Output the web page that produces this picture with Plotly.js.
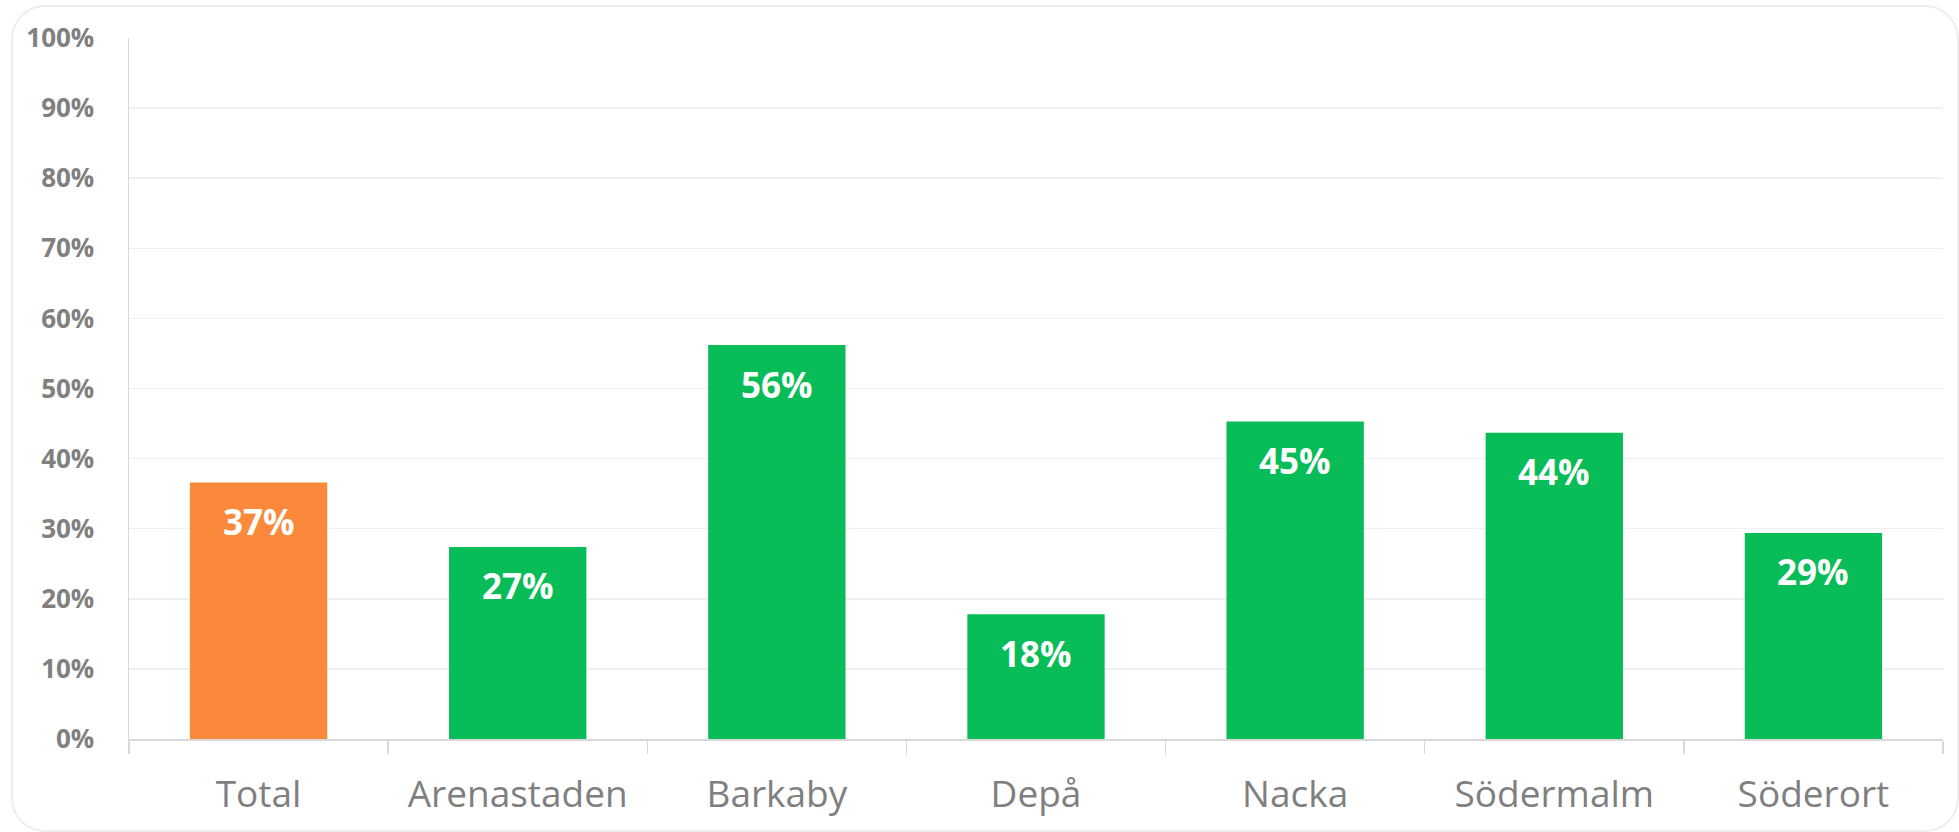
<!DOCTYPE html>
<html>
<head>
<meta charset="utf-8">
<script src="https://cdn.plot.ly/plotly-3.0.1.min.js"></script>
<style>
html,body{margin:0;padding:0;background:#fff;}
#wrap{position:relative;width:1959px;height:832px;}
#chart{position:absolute;left:0;top:0;width:1959px;height:832px;}
#frame{position:absolute;left:11px;top:5px;width:1944px;height:823px;border:2px solid #ededed;border-radius:34px;pointer-events:none;}
</style>
</head>
<body>
<div id="wrap"><div id="chart"></div><div id="frame"></div></div>
<script>
const categories = ["Total", "Arenastaden", "Barkaby", "Depå", "Nacka", "Södermalm", "Söderort"];
const values = [0.366, 0.274, 0.562, 0.178, 0.453, 0.437, 0.294];
const barColors = ["#FA893B", "#08BC58", "#08BC58", "#08BC58", "#08BC58", "#08BC58", "#08BC58"];
const yTickVals = [0, 0.1, 0.2, 0.3, 0.4, 0.5, 0.6, 0.7, 0.8, 0.9, 1.0];
const yTickText = ["0%", "10%", "20%", "30%", "40%", "50%", "60%", "70%", "80%", "90%", "100%"];

const trace = {
  type: "bar",
  x: categories,
  y: values,
  marker: {color: barColors},
  hoverinfo: "none"
};

const annotations = categories.map((c, i) => ({
  x: c, y: values[i], xref: "x", yref: "y",
  text: Math.round(values[i] * 100) + "%",
  showarrow: false, yshift: -39,
  font: {family: "Open Sans", size: 35, color: "#ffffff", weight: "bold"}
}));

const layout = {
  width: 1959, height: 832,
  margin: {l: 129, r: 16, t: 38, b: 93},
  paper_bgcolor: "rgba(0,0,0,0)",
  plot_bgcolor: "#ffffff",
  bargap: 0.47,
  showlegend: false,
  font: {family: "Open Sans"},
  xaxis: {
    type: "category",
    tickson: "boundaries",
    ticks: "outside", ticklen: 13, tickcolor: "#d9d9d9", tickwidth: 1.5,
    showline: true, linecolor: "#d9d9d9", linewidth: 1.5,
    showgrid: false,
    tickfont: {family: "Open Sans", size: 37, color: "#7f7f7f"},
    ticklabelstandoff: 22
  },
  yaxis: {
    range: [0, 1],
    tickvals: yTickVals, ticktext: yTickText,
    showgrid: true, gridcolor: "#f0f0f0", gridwidth: 1.5,
    showline: true, linecolor: "#d9d9d9", linewidth: 1.5,
    zeroline: false,
    ticks: "",
    tickfont: {family: "Open Sans", size: 26, color: "#808080", weight: "bold"},
    ticklabelstandoff: 28
  },
  annotations: annotations
};

Plotly.newPlot("chart", [trace], layout, {displayModeBar: false, staticPlot: true});
</script>
</body>
</html>
